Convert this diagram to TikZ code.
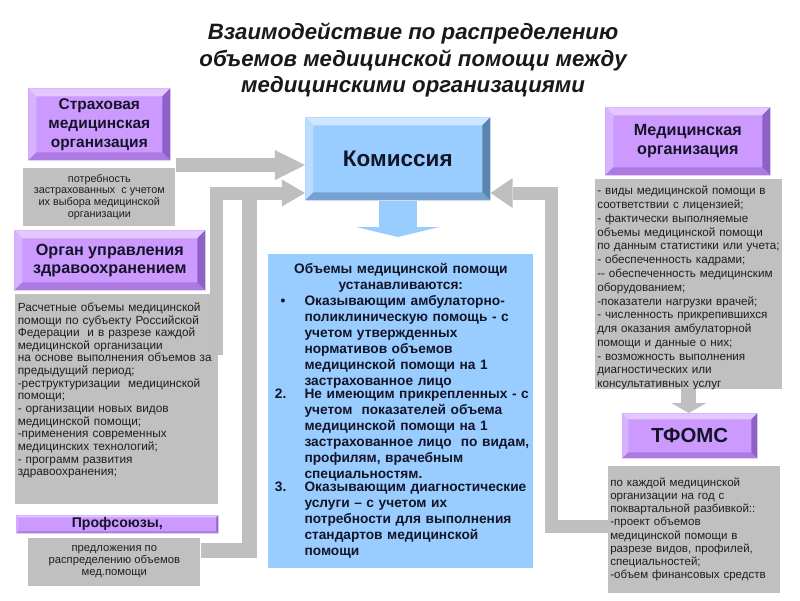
\documentclass[tikz,border=0pt]{standalone}
\usepackage{fontspec}
\setmainfont{Liberation Sans}
\usetikzlibrary{arrows.meta,positioning}

\definecolor{lavface}{RGB}{204,153,255}
\definecolor{lavtop}{RGB}{226,200,255}
\definecolor{lavleft}{RGB}{215,178,255}
\definecolor{lavbot}{RGB}{172,122,226}
\definecolor{lavright}{RGB}{142,97,200}
\definecolor{bluface}{RGB}{153,204,255}
\definecolor{blutop}{RGB}{206,230,255}
\definecolor{bluleft}{RGB}{185,220,255}
\definecolor{blubot}{RGB}{118,162,210}
\definecolor{bluright}{RGB}{92,132,176}
\definecolor{volface}{RGB}{153,204,255}
\definecolor{grayface}{RGB}{192,192,192}
\definecolor{arrowgray}{RGB}{191,191,191}
\definecolor{boxtext}{RGB}{20,20,40}
\definecolor{graytext}{RGB}{30,30,30}

% list item with a hanging label
\newcommand{\volitem}[2]{\par\noindent\makebox[24pt][l]{#1}\parbox[t]{\dimexpr\linewidth-24pt\relax}{\raggedright #2}\par}

\tikzset{
  bevel/.style n args={5}{path picture={
    \path (path picture bounding box.north west) coordinate (bA)
          (path picture bounding box.north east) coordinate (bB)
          (path picture bounding box.south east) coordinate (bC)
          (path picture bounding box.south west) coordinate (bD);
    \fill[#2] (bA) -- (bB) -- ([shift={(-#1,-#1)}]bB) -- ([shift={(#1,-#1)}]bA) -- cycle;
    \fill[#3] (bA) -- (bD) -- ([shift={(#1,#1)}]bD) -- ([shift={(#1,-#1)}]bA) -- cycle;
    \fill[#4] (bD) -- (bC) -- ([shift={(-#1,#1)}]bC) -- ([shift={(#1,#1)}]bD) -- cycle;
    \fill[#5] (bB) -- (bC) -- ([shift={(-#1,#1)}]bC) -- ([shift={(-#1,-#1)}]bB) -- cycle;
  }},
  purplebox/.style={fill=lavface, bevel={#1}{lavtop}{lavleft}{lavbot}{lavright},
    text=boxtext, align=center, inner sep=0pt, font=\fontsize{11}{13.5}\selectfont\bfseries},
  purplebox/.default=0.2cm,
  bluebox/.style={fill=bluface, bevel={0.2cm}{blutop}{bluleft}{blubot}{bluright},
    text=boxtext, align=center, inner sep=0pt, font=\fontsize{16}{18}\selectfont\bfseries},
  graybox/.style={fill=grayface, text=graytext, inner sep=0pt, font=\fontsize{8.3}{9.8}\selectfont},
  grayarrow/.style={draw=arrowgray, line join=miter},
}

\begin{document}
\begin{tikzpicture}[x=0.025cm,y=-0.025cm]
    \useasboundingbox[fill=white] (0,0) rectangle (800,600);

    % Title
    \node[font=\fontsize{15.8}{19}\selectfont\bfseries\itshape, align=center, text=black!90] (title) at (413,60)
        {Взаимодействие по распределению\\объемов медицинской помощи между\\медицинскими организациями};

    % Left column
    \node[purplebox, anchor=north west, minimum width=3.55cm, minimum height=1.8cm] (ins) at (28,88)
        {Страховая\\медицинская\\организация};
    \node[graybox, below=0.175cm of ins, minimum width=3.8cm, minimum height=1.45cm, align=center,
          font=\fontsize{7.7}{8.4}\selectfont] (instxt)
        {потребность\\застрахованных\ \ с учетом\\их выбора медицинской\\организации};

    \node[purplebox, anchor=north west, minimum width=4.775cm, minimum height=1.5cm,
          font=\fontsize{11.5}{13}\selectfont\bfseries] (org) at (14,230)
        {Орган управления\\здравоохранением};
    \node[graybox, below=0.075cm of org, xshift=0.175cm, minimum width=5.075cm, minimum height=5.25cm,
          text width=4.95cm, align=left, font=\fontsize{8.4}{9}\selectfont] (orgtxt)
        {Расчетные объемы медицинской\\помощи по субъекту Российской\\Федерации\ \ и в разрезе каждой\\медицинской организации\\на основе выполнения объемов за\\предыдущий период;\\-реструктуризации\ \ медицинской\\помощи;\\- организации новых видов\\медицинской помощи;\\-применения современных\\медицинских технологий;\\- программ развития\\здравоохранения;\par\vspace{12pt}};

    \node[purplebox=0.05cm, anchor=north west, minimum width=5.05cm, minimum height=0.45cm,
          font=\fontsize{10}{12}\selectfont\bfseries] (prof) at (16,515) {Профсоюзы,};
    \node[graybox, below=0.1cm of prof, xshift=-0.075cm, minimum width=4.3cm, minimum height=1.2cm, align=center,
          font=\fontsize{8}{8.4}\selectfont] (proftxt)
        {предложения по\\распределению объемов\\мед.помощи};

    % Centre
    \node[bluebox, anchor=north west, minimum width=4.625cm, minimum height=2.075cm] (comm) at (305,117) {Комиссия};
    \node[fill=volface, below=1.325cm of comm, xshift=0.075cm, minimum width=6.625cm, minimum height=7.85cm,
          text width=6.5cm, align=left, inner sep=0pt, text=boxtext,
          font=\fontsize{9.75}{11.3}\selectfont\bfseries] (vol)
        {{\centering Объемы медицинской помощи\\устанавливаются:\par}
         \volitem{\hspace{7pt}•}{Оказывающим амбулаторно-\\поликлиническую помощь - с\\учетом утвержденных\\нормативов объемов\\медицинской помощи на 1\\застрахованное лицо}
         \volitem{\hspace{3pt}2.}{Не имеющим прикрепленных - с\\учетом\ \ показателей объема\\медицинской помощи на 1\\застрахованное лицо\ \ по видам,\\профилям, врачебным\\специальностям.}
         \volitem{\hspace{3pt}3.}{Оказывающим диагностические\\услуги – с учетом их\\потребности для выполнения\\стандартов медицинской\\помощи}};

    % Right column
    \node[purplebox, anchor=north west, minimum width=4.125cm, minimum height=1.7cm,
          font=\fontsize{11.5}{13.5}\selectfont\bfseries] (med) at (605,107)
        {Медицинская\\организация};
    \node[graybox, below=0.075cm of med, xshift=0.025cm, minimum width=4.675cm, minimum height=5.25cm,
          text width=4.575cm, align=left] (medtxt)
        {- виды медицинской\ помощи в\\соответствии\ с лицензией;\\- фактически выполняемые\\объемы медицинской помощи\\по данным статистики\ или учета;\\- обеспеченность\ кадрами;\\-{}- обеспеченность\ медицинским\\оборудованием;\\-показатели нагрузки врачей;\\- численность прикрепившихся\\для оказания амбулаторной\\помощи и данные о них;\\- возможность выполнения\\диагностических\ или\\консультативных\ услуг\par\vspace{-6pt}};

    \node[purplebox=0.15cm, anchor=north west, minimum width=3.375cm, minimum height=1.125cm,
          font=\fontsize{14.5}{16}\selectfont\bfseries] (tfoms) at (622,413) {ТФОМС};
    \node[graybox, below=0.175cm of tfoms, xshift=0.1125cm, minimum width=4.3cm, minimum height=3.175cm,
          text width=4.2cm, align=left, font=\fontsize{8.2}{9.3}\selectfont] (tfomstxt)
        {по каждой медицинской\\организации на год с\\поквартальной\ разбивкой::\\-проект объемов\\медицинской помощи в\\разрезе видов, профилей,\\специальностей;\\-объем финансовых средств};

    % Connectors
    \coordinate (orgbend) at (216.5,193);
    \coordinate (profjoin) at (249.5,194);
    \coordinate (rbend) at (551,193);

    \draw[grayarrow, line width=0.35cm, -{Triangle[width=0.75cm,length=0.75cm,line width=0pt]}]
        (instxt.east |- 0,165) -- (comm.west |- 0,165);
    \draw[grayarrow, line width=0.325cm, -{Triangle[width=0.675cm,length=0.575cm,line width=0pt]}]
        (orgbend |- 0,355) -- (orgbend) -- (comm.west |- orgbend);
    \draw[grayarrow, line width=0.375cm] (proftxt.east |- 0,550.5) -| (profjoin);
    \draw[grayarrow, line width=0.325cm, -{Triangle[width=0.75cm,length=0.55cm,line width=0pt]}]
        (tfomstxt.west |- 0,526) -| (rbend) -- (comm.east |- rbend);
    \draw[grayarrow, line width=0.375cm, -{Triangle[width=0.875cm,length=0.25cm,line width=0pt]}]
        (medtxt.south) -- (medtxt.south |- tfoms.north);
    \draw[draw=volface, line width=0.95cm, -{Triangle[width=2.075cm,length=0.25cm,line width=0pt]}]
        (comm.south) -- (comm.south |- 0,237);
\end{tikzpicture}
\end{document}
